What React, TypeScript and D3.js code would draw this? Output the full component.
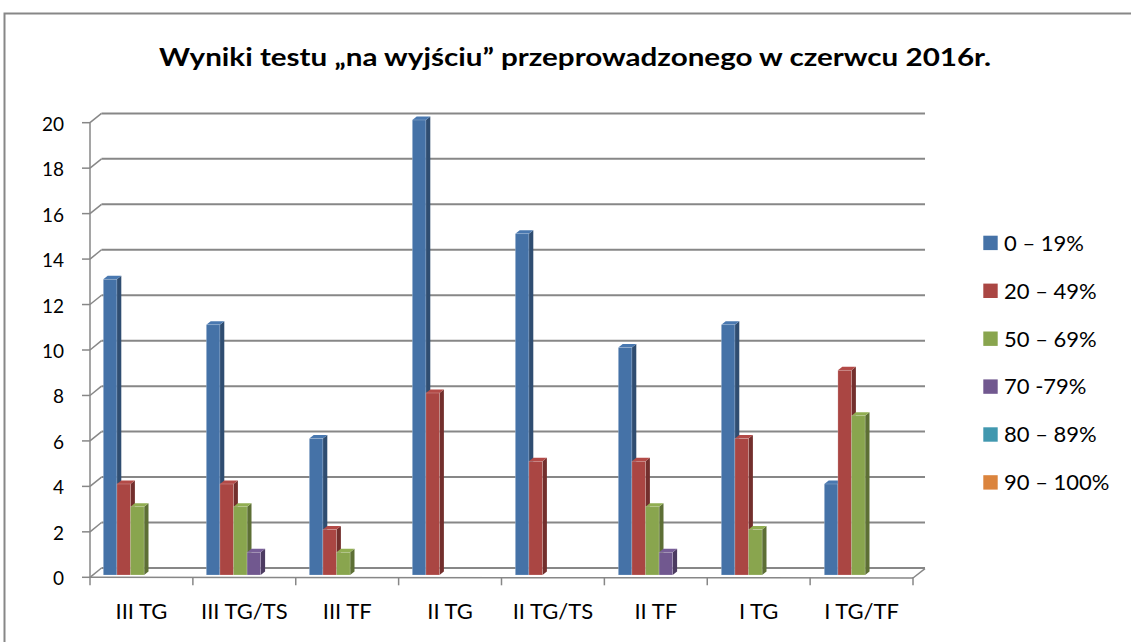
import { useEffect } from "react";
import * as d3 from "d3";

const categories = ["III TG", "III TG/TS", "III TF", "II TG", "II TG/TS", "II TF", "I TG", "I TG/TF"];
const seriesNames = ["0 – 19%", "20 – 49%", "50 – 69%", "70 -79%", "80 – 89%", "90 – 100%"];
const s0to19 = [13, 11, 6, 20, 15, 10, 11, 4];
const s20to49 = [4, 4, 2, 8, 5, 5, 6, 9];
const s50to69 = [3, 3, 1, 0, 0, 3, 2, 7];
const s70to79 = [0, 1, 0, 0, 0, 1, 0, 0];
const s80to89 = [0, 0, 0, 0, 0, 0, 0, 0];
const s90to100 = [0, 0, 0, 0, 0, 0, 0, 0];
const yTicks = [0, 2, 4, 6, 8, 10, 12, 14, 16, 18, 20];

const seriesValues = [s0to19, s20to49, s50to69, s70to79, s80to89, s90to100];
const colors = ["#4572A7", "#AA4643", "#89A54E", "#71588F", "#4198AF", "#DB843D"];

const W = 1131;
const H = 642;
// wall depth offset
const DX = 11.5;
const DY = -9.3;
// bar depth offset
const BDX = 4.4;
const BDY = -3.4;
const BAR_W = 13.6;

export default function App() {
  useEffect(() => {
    document.body.style.margin = "0";
  }, []);

  const x = d3.scaleBand<string>().domain(categories).range([90, 913]);
  const xBar = d3.scaleBand<string>().domain(categories).range([103.3, 103.3 + 8 * 103]);
  const yFront = d3.scaleLinear().domain([0, 20]).range([577.3, 122.7]);
  const yBar = d3.scaleLinear().domain([0, 20]).range([575, 120]);

  const grid = "#878787";
  const font = "Lato, 'Open Sans', sans-serif";

  const bars: JSX.Element[] = [];
  categories.forEach((c, ci) => {
    seriesValues.forEach((vals, si) => {
      const v = vals[ci];
      if (!v) return;
      const x0 = xBar(c)! + si * BAR_W;
      const x1 = x0 + BAR_W;
      const yt = yBar(v);
      const yb = yBar(0);
      const face = colors[si];
      const side = d3.color(face)!.darker(1.1).formatHex();
      const top = d3.color(face)!.brighter(0.15).formatHex();
      bars.push(
        <g key={`${ci}-${si}`}>
          <path
            d={`M${x1},${yt} L${x1 + BDX},${yt + BDY} L${x1 + BDX},${yb + BDY} L${x1},${yb} Z`}
            fill={side}
          />
          <path
            d={`M${x0},${yt} L${x0 + BDX},${yt + BDY} L${x1 + BDX},${yt + BDY} L${x1},${yt} Z`}
            fill={top}
          />
          <rect x={x0} y={yt} width={BAR_W} height={yb - yt} fill={face} stroke="rgba(255,255,255,0.35)" strokeWidth={0.6} />
        </g>
      );
    });
  });

  return (
    <svg width={W} height={H} style={{ display: "block", background: "#fff" }}>
      <rect x={4.5} y={13.5} width={W + 10} height={H + 10} fill="#fff" stroke={grid} strokeWidth={2} />
      <text
        x={575}
        y={66}
        textAnchor="middle"
        fontFamily={font}
        fontWeight="bold"
        fontSize={25}
        textLength={832}
        lengthAdjust="spacingAndGlyphs"
        fill="#000"
      >
        Wyniki testu „na wyjściu” przeprowadzonego w czerwcu 2016r.
      </text>

      {/* back wall gridlines and diagonals */}
      {yTicks.map((t) => (
        <g key={t}>
          <line x1={90 + DX} x2={925} y1={yFront(t) + DY} y2={yFront(t) + DY} stroke={grid} strokeWidth={2} />
          <line x1={90} y1={yFront(t)} x2={90 + DX} y2={yFront(t) + DY} stroke={grid} strokeWidth={1.5} />
          <line x1={82} x2={90} y1={yFront(t)} y2={yFront(t)} stroke={grid} strokeWidth={1.5} />
          <text x={64} y={yFront(t) + 8} textAnchor="end" fontFamily={font} fontSize={19} fill="#000">
            {t}
          </text>
        </g>
      ))}
      <line x1={90} x2={90} y1={yFront(20)} y2={yFront(0)} stroke={grid} strokeWidth={1.5} />

      {/* floor */}
      <line x1={90} x2={913} y1={yFront(0)} y2={yFront(0) + 0.7} stroke={grid} strokeWidth={1.5} />
      <line x1={913} y1={yFront(0) + 0.7} x2={925} y2={yFront(0) + DY + 0.7} stroke={grid} strokeWidth={1.5} />
      {[...categories.map((c) => x(c)!), 913].map((px, i) => (
        <line key={i} x1={px} x2={px} y1={yFront(0)} y2={yFront(0) + 8} stroke={grid} strokeWidth={1.5} />
      ))}

      {bars}

      {categories.map((c) => (
        <text
          key={c}
          x={x(c)! + x.bandwidth() / 2}
          y={619}
          textAnchor="middle"
          fontFamily={font}
          fontSize={22}
          fill="#000"
        >
          {c}
        </text>
      ))}

      {seriesNames.map((n, i) => {
        const by = 250.7 + i * 47.9;
        return (
          <g key={n}>
            <rect x={983.3} y={by - 15} width={14.4} height={14.4} fill={colors[i]} />
            <text x={1004} y={by} fontFamily={font} fontSize={22} fill="#000">
              {n}
            </text>
          </g>
        );
      })}
    </svg>
  );
}
